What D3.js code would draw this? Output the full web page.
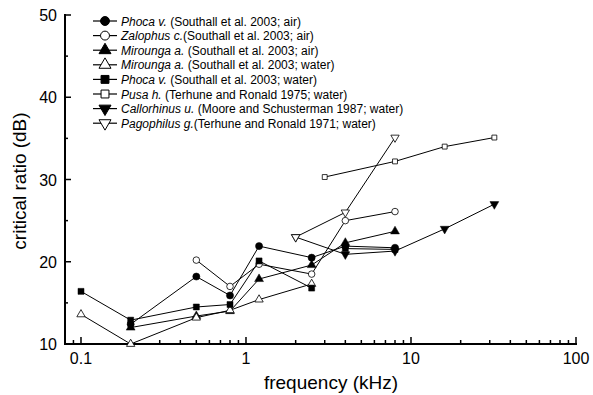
<html>
    <head>
        <style>
            body { margin: 0; background-color: white; }
            svg text { font-family: Arial, "Liberation Sans", sans-serif; fill: black; }
        </style>
    </head>
    <body>
        <svg id="chart" width="593" height="395"></svg>
        <script src="https://cdn.jsdelivr.net/npm/d3@7"></script>
        <script>

            // legend entries, in drawing order
            const SERIES_GENUS = ["Phoca v.", "Zalophus c.", "Mirounga a.", "Mirounga a.", "Phoca v.", "Pusa h.", "Callorhinus u.", "Pagophilus g."];
            const SERIES_REF = [" (Southall et al. 2003; air)", "(Southall et al. 2003; air)", " (Southall et al. 2003; air)",
                " (Southall et al. 2003; water)", " (Southall et al. 2003; water)", " (Terhune and Ronald 1975; water)",
                " (Moore and Schusterman 1987; water)", "(Terhune and Ronald 1971; water)"];
            const SERIES_SHAPE = ["circle", "circle", "triangle", "triangle", "square", "square", "down", "down"];
            const SERIES_FILLED = [true, false, true, false, true, false, true, false];
            const SERIES_SIZE = [40, 34, 34, 30, 36, 24, 34, 30];

            // frequency (kHz) and critical ratio (dB); null = gap in the line
            const SERIES_FREQ = [
                [0.2, 0.5, 0.8, 1.2, 2.5, 4, 8],
                [0.5, 0.8, 1.2, 2.5, 4, 8],
                [0.2, 0.5, 0.8, 1.2, 2.5, 4, 8],
                [0.1, 0.2, 0.5, 0.8, 1.2, 2.5],
                [0.1, 0.2, 0.5, 0.8, 1.2, 2.5, null, 4, 8],
                [3, 8, 16, 32],
                [2, 4, 8, 16, 32],
                [2, 4, 8]
            ];
            const SERIES_VAL = [
                [12.4, 18.2, 15.9, 21.9, 20.5, 21.9, 21.7],
                [20.2, 17.0, 19.7, 18.5, 25.0, 26.1],
                [12.0, 13.4, 14.0, 17.9, 19.6, 22.3, 23.7],
                [13.6, 10.0, 13.2, 14.1, 15.4, 17.3],
                [16.4, 12.9, 14.5, 14.8, 20.1, 16.8, null, 21.6, 21.5],
                [30.3, 32.2, 34.0, 35.1],
                [23.0, 20.9, 21.3, 24.0, 27.0],
                [23.0, 26.0, 35.1]
            ];

            const X_MAJOR = [0.1, 1, 10, 100];
            const X_MINOR = [0.09, 0.2, 0.3, 0.4, 0.5, 0.6, 0.7, 0.8, 0.9, 2, 3, 4, 5, 6, 7, 8, 9, 20, 30, 40, 50, 60, 70, 80, 90];
            const Y_MAJOR = [10, 20, 30, 40, 50];
            const Y_MINOR = [15, 25, 35, 45];

            const svg = d3.select("#chart");
            const x = d3.scaleLog().domain([0.08, 100]).range([65, 576]);
            const y = d3.scaleLinear().domain([10, 50]).range([344, 15]);

            function symbolPath(shape, size) {
                if (shape === "circle") return d3.symbol(d3.symbolCircle, size)();
                if (shape === "square") return d3.symbol(d3.symbolSquare, size)();
                return d3.symbol(d3.symbolTriangle, size)();
            }
            function symbolTransform(shape, px, py) {
                return "translate(" + px + "," + py + ")" + (shape === "down" ? " rotate(180)" : "");
            }

            // axes: ticks point inward
            const xAxis = svg.append("g").attr("transform", "translate(0,344)");
            xAxis.append("line").attr("x1", 64).attr("x2", 577).attr("stroke", "black").attr("stroke-width", 2);
            xAxis.selectAll("line.maj").data(X_MAJOR).join("line").attr("class", "maj")
                .attr("x1", d => x(d)).attr("x2", d => x(d)).attr("y1", 0).attr("y2", -7)
                .attr("stroke", "black").attr("stroke-width", 1.5);
            xAxis.selectAll("line.min").data(X_MINOR).join("line").attr("class", "min")
                .attr("x1", d => x(d)).attr("x2", d => x(d)).attr("y1", 0).attr("y2", -4)
                .attr("stroke", "black").attr("stroke-width", 1.5);
            xAxis.selectAll("text").data(X_MAJOR).join("text")
                .attr("x", d => x(d)).attr("y", 20).attr("text-anchor", "middle")
                .attr("font-size", 16).text(d => d);

            const yAxis = svg.append("g").attr("transform", "translate(65,0)");
            yAxis.append("line").attr("y1", 14).attr("y2", 345).attr("stroke", "black").attr("stroke-width", 2);
            yAxis.selectAll("line.maj").data(Y_MAJOR).join("line").attr("class", "maj")
                .attr("y1", d => y(d)).attr("y2", d => y(d)).attr("x1", 0).attr("x2", 6)
                .attr("stroke", "black").attr("stroke-width", 1.5);
            yAxis.selectAll("line.min").data(Y_MINOR).join("line").attr("class", "min")
                .attr("y1", d => y(d)).attr("y2", d => y(d)).attr("x1", 0).attr("x2", 3)
                .attr("stroke", "black").attr("stroke-width", 1.5);
            yAxis.selectAll("text").data(Y_MAJOR).join("text")
                .attr("x", -8).attr("y", d => y(d) + 6).attr("text-anchor", "end")
                .attr("font-size", 16).text(d => d);

            svg.append("text").attr("x", 331).attr("y", 389).attr("text-anchor", "middle")
                .attr("font-size", 19).text("frequency (kHz)");
            svg.append("text").attr("transform", "translate(26,181) rotate(-90)").attr("text-anchor", "middle")
                .attr("font-size", 19).text("critical ratio (dB)");

            // series
            const line = d3.line().defined(d => d[1] !== null).x(d => x(d[0])).y(d => y(d[1]));
            SERIES_FREQ.forEach((freqs, i) => {
                const pts = freqs.map((f, j) => [f, SERIES_VAL[i][j]]);
                const g = svg.append("g");
                g.append("path").attr("d", line(pts)).attr("fill", "none").attr("stroke", "black").attr("stroke-width", 1);
                const shape = SERIES_SHAPE[i];
                g.selectAll("path.mark").data(pts.filter(d => d[1] !== null)).join("path").attr("class", "mark")
                    .attr("d", symbolPath(shape, SERIES_SIZE[i]))
                    .attr("transform", d => symbolTransform(shape, x(d[0]), y(d[1])))
                    .attr("fill", SERIES_FILLED[i] ? "black" : "white")
                    .attr("stroke", "black").attr("stroke-width", SERIES_FILLED[i] ? 0.5 : 0.8);
            });

            // legend
            const legend = svg.append("g");
            SERIES_GENUS.forEach((genus, i) => {
                const ly = 21 + i * 14.6;
                const shape = SERIES_SHAPE[i];
                legend.append("line").attr("x1", 93).attr("x2", 117).attr("y1", ly).attr("y2", ly)
                    .attr("stroke", "black").attr("stroke-width", 1.2);
                legend.append("path").attr("d", symbolPath(shape, 40))
                    .attr("transform", symbolTransform(shape, 105, ly) + " scale(1.25)")
                    .attr("fill", SERIES_FILLED[i] ? "black" : "white")
                    .attr("stroke", "black").attr("stroke-width", 0.8);
                const t = legend.append("text").attr("x", 121).attr("y", ly + 4.5).attr("font-size", 12);
                t.append("tspan").attr("font-style", "italic").text(genus);
                t.append("tspan").text(SERIES_REF[i]);
            });
        </script>
    </body>
</html>
